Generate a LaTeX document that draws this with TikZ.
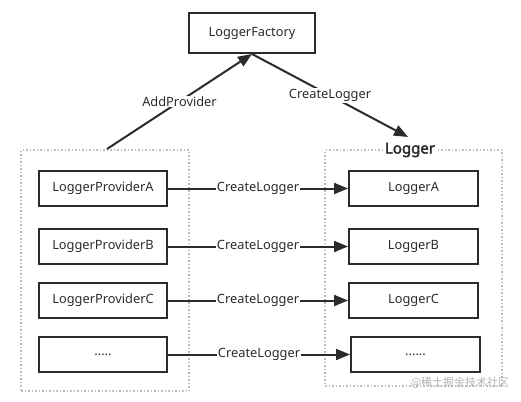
\documentclass[tikz,border=0pt]{standalone}
\usepackage{fontspec}
\setmainfont{Noto Sans}
\newfontfamily\cjk{Noto Sans CJK SC}
\newfontfamily\fakebold[FakeBold=2.5]{Noto Sans}
\usetikzlibrary{arrows.meta}
\definecolor{ink}{HTML}{2B2B2B}
\definecolor{dotgray}{HTML}{BDBDBD}
\tikzset{
  x=1pt, y=-1pt,
  box/.style={draw=ink, line width=2pt, rectangle, minimum height=35pt, inner sep=0pt, font=\fontsize{12.8}{14}\selectfont, text=ink},
  container/.style={draw=dotgray, line width=1.5pt, dotted, rectangle, inner sep=0pt},
  conn/.style={draw=ink, line width=2pt, -{Triangle[length=14pt,width=11pt]}},
  lbl/.style={fill=white, inner sep=1pt, font=\fontsize{12.8}{14}\selectfont, text=ink},
}
\begin{document}
\begin{tikzpicture}
\useasboundingbox (0,0) rectangle (521,401);
% containers
\node[container, minimum width=168pt, minimum height=241pt] (leftc) at (105,270.5) {};
\node[container, minimum width=177pt, minimum height=236pt] (rightc) at (413.5,268) {};
\node[fill=white, inner sep=1pt, font=\fakebold\fontsize{15}{17}\selectfont, text=ink] (loggerlbl) at (410,150) {Logger};
% factory
\node[box, minimum width=126pt, minimum height=40pt] (factory) at (252,33) {LoggerFactory};
% providers
\node[box, minimum width=128pt] (pa) at (103,188.5) {LoggerProviderA};
\node[box, minimum width=128pt] (pb) at (103,246.5) {LoggerProviderB};
\node[box, minimum width=128pt] (pc) at (103,300.5) {LoggerProviderC};
\node[box, minimum width=128pt] (pd) at (103,354.5) {.....};
% loggers
\node[box, minimum width=129pt] (la) at (413.5,188.5) {LoggerA};
\node[box, minimum width=129pt] (lb) at (413.5,246.5) {LoggerB};
\node[box, minimum width=129pt] (lc) at (413.5,300.5) {LoggerC};
\node[box, minimum width=129pt] (ld) at (415.5,354.5) {......};
% top arrows
\coordinate (apstart) at (107,149);
\coordinate (clend) at (408,137);
\draw[conn] (apstart) -- node[lbl, pos=0.5] {AddProvider} (factory.south);
\draw[conn] (factory.south) -- node[lbl, pos=0.5] {CreateLogger} (clend);
% horizontal arrows
\draw[conn] (pa) -- node[lbl] {CreateLogger} (la);
\draw[conn] (pb) -- node[lbl] {CreateLogger} (lb);
\draw[conn] (pc) -- node[lbl] {CreateLogger} (lc);
\draw[conn] (pd) -- node[lbl] {CreateLogger} (ld);
% watermark
\node[text=gray!60, font=\cjk\fontsize{11}{12}\selectfont, inner sep=0pt] (wm) at (460,383) {@稀土掘金技术社区};
\end{tikzpicture}
\end{document}
